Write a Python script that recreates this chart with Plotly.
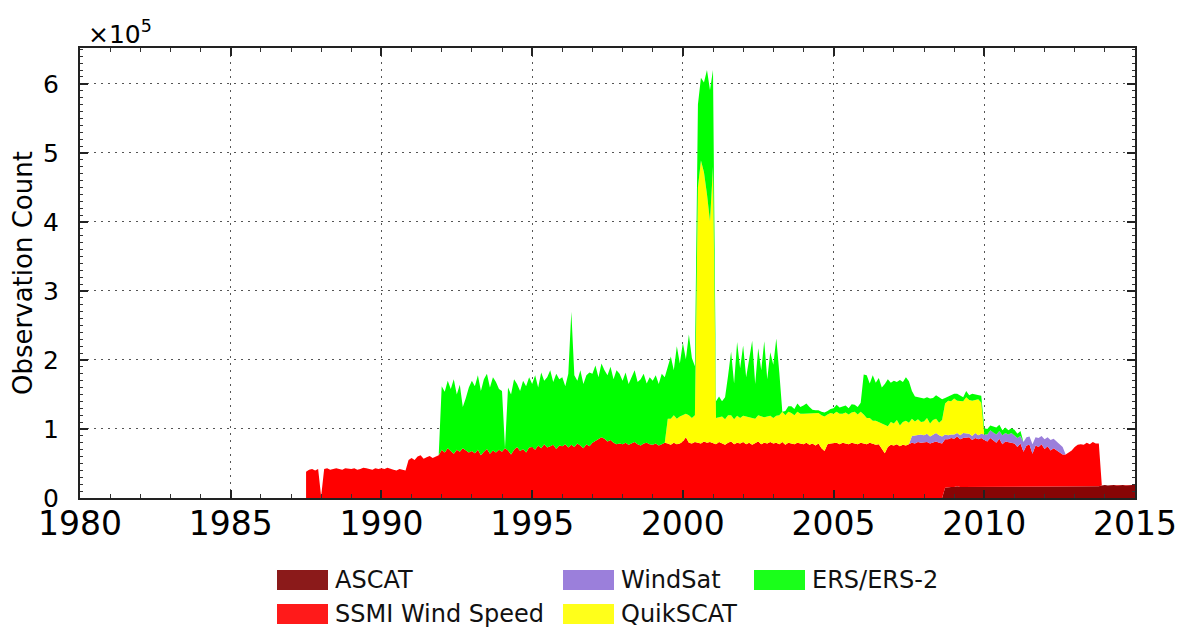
import numpy as np
import plotly.graph_objects as go

# ---------------- data (units of 1e5 observations), sampled every 0.1 year ----------------
GRID_START = 1987.5
GRID_END = 2015.0
STEP = 0.1

ascat_start = 2008.7
ascat = [0.15, 0.16, 0.16,
         0.16, 0.17, 0.16, 0.16, 0.17, 0.16, 0.16, 0.17, 0.16, 0.16,
         0.16, 0.16, 0.17, 0.16, 0.16, 0.17, 0.16, 0.16, 0.17, 0.16,
         0.17, 0.16, 0.16, 0.17, 0.16, 0.16, 0.17, 0.16, 0.16, 0.17,
         0.16, 0.17, 0.16, 0.16, 0.17, 0.16, 0.16, 0.17, 0.16, 0.16,
         0.16, 0.17, 0.16, 0.16, 0.17, 0.16, 0.17, 0.16, 0.17, 0.18,
         0.19, 0.18, 0.19, 0.19, 0.18, 0.19, 0.19, 0.18, 0.19, 0.19,
         0.19]

ssmi_start = 1987.5
ssmi = [0.38, 0.41, 0.42, 0.40, 0.42,
        0.02, 0.42, 0.43, 0.41, 0.42, 0.43, 0.42, 0.41, 0.43, 0.42,   # 1988
        0.42, 0.43, 0.41, 0.42, 0.44, 0.43, 0.42, 0.41, 0.43, 0.42,   # 1989
        0.43, 0.42, 0.44, 0.42, 0.41, 0.40, 0.42, 0.41, 0.40, 0.55,   # 1990
        0.58, 0.55, 0.60, 0.62, 0.57, 0.59, 0.61, 0.58, 0.60, 0.62,   # 1991
        0.70, 0.66, 0.72, 0.68, 0.64, 0.70, 0.67, 0.72, 0.69, 0.66,   # 1992
        0.68, 0.65, 0.70, 0.62, 0.67, 0.71, 0.64, 0.69, 0.66, 0.70,   # 1993
        0.67, 0.72, 0.69, 0.63, 0.70, 0.74, 0.68, 0.71, 0.66, 0.73,   # 1994
        0.74, 0.70, 0.76, 0.72, 0.78, 0.73, 0.75, 0.77, 0.71, 0.76,   # 1995
        0.75, 0.78, 0.73, 0.77, 0.74, 0.79, 0.76, 0.72, 0.78, 0.75,   # 1996
        0.80, 0.83, 0.85, 0.88, 0.86, 0.82, 0.84, 0.80, 0.78, 0.79,   # 1997
        0.78, 0.80, 0.77, 0.79, 0.81, 0.78, 0.76, 0.79, 0.80, 0.78,   # 1998
        0.77, 0.79, 0.76, 0.78, 0.80, 0.79, 0.77, 0.80, 0.78, 0.79,   # 1999
        0.82, 0.88, 0.80, 0.79, 0.81, 0.80, 0.79, 0.82, 0.80, 0.81,   # 2000
        0.80, 0.78, 0.81, 0.79, 0.77, 0.80, 0.82, 0.78, 0.80, 0.79,   # 2001
        0.81, 0.78, 0.80, 0.77, 0.79, 0.82, 0.78, 0.80, 0.79, 0.81,   # 2002
        0.79, 0.80, 0.78, 0.81, 0.77, 0.80, 0.79, 0.78, 0.80, 0.79,   # 2003
        0.78, 0.80, 0.77, 0.79, 0.76, 0.79, 0.72, 0.68, 0.78, 0.79,   # 2004
        0.79, 0.80, 0.78, 0.80, 0.79, 0.78, 0.80, 0.79, 0.78, 0.80,   # 2005
        0.79, 0.78, 0.80, 0.79, 0.77, 0.78, 0.72, 0.65, 0.74, 0.77,   # 2006
        0.76, 0.78, 0.75, 0.77, 0.76, 0.78, 0.80, 0.79, 0.81, 0.80,   # 2007
        0.80, 0.81, 0.79, 0.80, 0.82, 0.80, 0.79, 0.70, 0.69, 0.71,   # 2008
        0.70, 0.72, 0.69, 0.71, 0.70, 0.72, 0.68, 0.70, 0.69, 0.71,   # 2009
        0.68, 0.66, 0.70, 0.67, 0.64, 0.69, 0.62, 0.66, 0.64, 0.65,   # 2010
        0.62, 0.58, 0.63, 0.50, 0.60, 0.61, 0.47, 0.60, 0.58, 0.61,   # 2011
        0.55, 0.58, 0.53, 0.56, 0.52, 0.50, 0.47, 0.46, 0.50, 0.53,   # 2012
        0.58, 0.60, 0.62, 0.61, 0.63, 0.62, 0.64, 0.63, 0.62]         # 2013

windsat_start = 2007.6
windsat = [0.10, 0.12, 0.11, 0.12,
           0.11, 0.12, 0.10, 0.11, 0.12, 0.11, 0.10, 0.07, 0.06, 0.05,   # 2008
           0.06, 0.05, 0.06, 0.07, 0.06, 0.05, 0.06, 0.07, 0.06, 0.06,   # 2009
           0.08, 0.10, 0.11, 0.12, 0.12, 0.11, 0.13, 0.12, 0.11, 0.13,   # 2010
           0.12, 0.13, 0.11, 0.14, 0.12, 0.12, 0.14, 0.12, 0.13, 0.12,   # 2011
           0.14, 0.13, 0.15, 0.14, 0.13, 0.12, 0.11]                     # 2012

quikscat_start = 1999.5
quikscat = [0.36, 0.38, 0.40, 0.37, 0.39,
            0.38, 0.34, 0.40, 0.37, 0.39, 3.70, 4.10, 3.90, 3.60, 3.20,   # 2000
            4.00, 0.38, 0.36, 0.39, 0.37, 0.40, 0.38, 0.36, 0.39, 0.37,   # 2001
            0.38, 0.40, 0.37, 0.39, 0.36, 0.38, 0.40, 0.37, 0.39, 0.38,   # 2002
            0.37, 0.39, 0.42, 0.44, 0.43, 0.45, 0.44, 0.42, 0.45, 0.43,   # 2003
            0.44, 0.42, 0.45, 0.43, 0.46, 0.44, 0.48, 0.50, 0.43, 0.44,   # 2004
            0.43, 0.45, 0.44, 0.42, 0.45, 0.43, 0.44, 0.46, 0.43, 0.45,   # 2005
            0.42, 0.38, 0.36, 0.33, 0.35, 0.32, 0.36, 0.40, 0.30, 0.33,   # 2006
            0.32, 0.35, 0.30, 0.33, 0.36, 0.31, 0.25, 0.20, 0.22, 0.18,   # 2007
            0.20, 0.23, 0.19, 0.22, 0.21, 0.18, 0.24, 0.45, 0.50, 0.48,   # 2008
            0.52, 0.47, 0.50, 0.46, 0.53, 0.49, 0.51, 0.48, 0.52, 0.45]   # 2009

ers_start = 1992.0
ers = [0.92, 0.88, 0.98, 0.90, 1.08, 0.80, 0.97, 0.60, 0.76, 0.94,   # 1992
       1.02, 0.97, 1.08, 0.93, 1.05, 1.09, 0.96, 1.06, 1.02, 0.88,   # 1993
       0.88, 0.00, 0.91, 0.87, 1.02, 0.91, 0.87, 0.99, 0.96, 1.02,   # 1994
       0.91, 1.08, 0.84, 1.10, 0.92, 1.02, 1.10, 0.91, 1.09, 0.96,   # 1995
       1.00, 0.84, 1.07, 1.93, 1.04, 0.91, 1.09, 0.93, 1.00, 1.07,   # 1996
       1.00, 1.09, 0.90, 1.07, 0.99, 0.96, 1.06, 0.92, 1.07, 1.01,   # 1997
       0.92, 1.02, 0.88, 0.96, 1.04, 0.90, 0.96, 1.01, 0.86, 0.97,   # 1998
       0.93, 0.99, 0.89, 1.02, 0.95, 0.75, 0.90, 0.65, 1.05, 0.77,   # 1999
       1.05, 0.79, 1.17, 0.87, 0.71, 1.20, 1.20, 1.30, 1.80, 1.90,   # 2000
       1.40, 0.24, 0.30, 0.22, 0.32, 0.57, 0.92, 0.52, 1.07, 0.72,   # 2001
       1.02, 0.57, 0.87, 1.12, 0.50, 0.97, 0.67, 1.10, 0.54, 0.92,   # 2002
       0.77, 1.12, 0.62, 0.00, 0.06, 0.08, 0.10, 0.09, 0.12, 0.10,   # 2003
       0.12, 0.15, 0.10, 0.06, 0.05, 0.04, 0.05, 0.06, 0.05, 0.06,   # 2004
       0.08, 0.10, 0.09, 0.11, 0.10, 0.09, 0.12, 0.10, 0.11, 0.13,   # 2005
       0.58, 0.62, 0.50, 0.66, 0.55, 0.64, 0.52, 0.60, 0.68, 0.57,   # 2006
       0.62, 0.55, 0.66, 0.58, 0.63, 0.60, 0.40, 0.36, 0.32, 0.35,   # 2007
       0.33, 0.30, 0.36, 0.32, 0.34, 0.37, 0.30, 0.08, 0.06, 0.09,   # 2008
       0.07, 0.10, 0.08, 0.06, 0.09, 0.07, 0.10, 0.08, 0.06, 0.10,   # 2009
       0.09, 0.08, 0.07, 0.08, 0.10, 0.09, 0.07, 0.08, 0.06, 0.07,   # 2010
       0.08, 0.06, 0.07]                                             # 2011

series_names = ["ASCAT", "SSMI Wind Speed", "WindSat", "QuikSCAT", "ERS/ERS-2"]
series_colors = ["#880505", "#ff0000", "#9b7fdb", "#ffff00", "#00ff00"]
legend_colors = ["#8b1a1a", "#ff1a1a", "#9b7fdb", "#ffff1a", "#1aff1a"]

x_ticks = [1980, 1985, 1990, 1995, 2000, 2005, 2010, 2015]
y_ticks = [0, 1, 2, 3, 4, 5, 6]

# ---------------- build common grid ----------------
n = int(round((GRID_END - GRID_START) / STEP)) + 1
grid = np.round(GRID_START + STEP * np.arange(n), 2)


def on_grid(start, vals):
    out = np.zeros(n)
    i0 = int(round((start - GRID_START) / STEP))
    v = np.asarray(vals, dtype=float)[: max(0, n - i0)]
    out[i0:i0 + len(v)] = v
    return out


layers = [on_grid(ascat_start, ascat), on_grid(ssmi_start, ssmi),
          on_grid(windsat_start, windsat), on_grid(quikscat_start, quikscat),
          on_grid(ers_start, ers)]

fig = go.Figure()
for name, col, yv in zip(series_names, series_colors, layers):
    fig.add_trace(go.Scatter(x=grid, y=yv, name=name, mode="lines",
                             stackgroup="one", line=dict(width=0, color=col),
                             fillcolor=col, showlegend=False, hoverinfo="skip"))

# ---------------- layout ----------------
W, H = 1189, 629
L, R, T, B = 80, 1135, 48, 498
FONT = "DejaVu Sans"

fig.update_layout(
    width=W, height=H,
    margin=dict(l=L, r=W - R, t=T, b=H - B, pad=0),
    paper_bgcolor="white", plot_bgcolor="white",
    font=dict(family=FONT, color="black"),
    showlegend=False,
)
fig.update_xaxes(
    range=[1980, 2015], tickvals=x_ticks, ticktext=[str(v) for v in x_ticks],
    tickfont=dict(size=33), ticks="inside", ticklen=8, tickwidth=1.5, tickcolor="#222",
    minor=dict(dtick=1, ticks="inside", ticklen=4, tickwidth=1, tickcolor="#333", showgrid=False),
    showline=True, linecolor="#222", linewidth=2, mirror="ticks",
    showgrid=True, gridcolor="#555", griddash="2px,5px", gridwidth=1,
    zeroline=False, ticklabelstandoff=-5,
)
fig.update_yaxes(
    range=[0, 6.52], tickvals=y_ticks, ticktext=[str(v) for v in y_ticks],
    tickfont=dict(size=25), ticks="inside", ticklen=8, tickwidth=1.5, tickcolor="#222",
    minor=dict(dtick=0.1, ticks="inside", ticklen=3, tickwidth=1, tickcolor="#333", showgrid=False),
    showline=True, linecolor="#222", linewidth=2, mirror="ticks",
    showgrid=True, gridcolor="#555", griddash="2px,5px", gridwidth=1,
    zeroline=False, ticklabelstandoff=14,
    title=dict(text="Observation Count", font=dict(size=26), standoff=3),
)


def px2paper(px, py):
    return (px - L) / (R - L), (B - py) / (B - T)


annotations = []
shapes = []
# exponent label
ax_, ay_ = px2paper(86, 33)
annotations.append(dict(x=ax_, y=ay_, xref="paper", yref="paper", xanchor="left", yanchor="middle",
                        text="×10<sup>5</sup>", showarrow=False, font=dict(size=25, family=FONT)))

# manual legend (matplotlib-style, 3 columns, 2 rows)
legend_layout = [  # (name index, swatch left px, row center px)
    (0, 277, 580), (2, 563, 580), (4, 754, 580),
    (1, 277, 614), (3, 563, 614),
]
for idx, sx, cy in legend_layout:
    x0, y0 = px2paper(sx, cy + 10)
    x1, y1 = px2paper(sx + 51, cy - 10)
    shapes.append(dict(type="rect", xref="paper", yref="paper", x0=x0, y0=y0, x1=x1, y1=y1,
                       fillcolor=legend_colors[idx], line=dict(width=0), layer="above"))
    tx, ty = px2paper(sx + 56, cy)
    annotations.append(dict(x=tx, y=ty, xref="paper", yref="paper", xanchor="left", yanchor="middle",
                            text=series_names[idx], showarrow=False,
                            font=dict(size=24, family=FONT, color="#111")))

fig.update_layout(annotations=annotations, shapes=shapes)
fig.write_html("out.html")
